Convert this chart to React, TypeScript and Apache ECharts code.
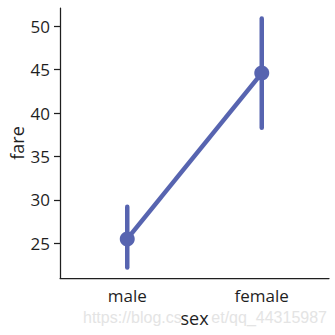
import React, { useEffect, useRef } from "react";
import * as echarts from "echarts";

const categories = ["male", "female"];
const meanFare = [25.5, 44.6];
const ciLow = [22.2, 38.3];
const ciHigh = [29.2, 50.9];
const yTicks = [25, 30, 35, 40, 45, 50];
const watermarkLeft = "https://blog.cs";
const watermarkRight = "et/qq_44315987";

const COLOR = "#5764b0";
const TEXT = "#1f1f1f";
const FONT = "Open Sans";

export default function App() {
  const ref = useRef<HTMLDivElement>(null);
  useEffect(() => {
    if (!ref.current) return;
    const chart = echarts.init(ref.current, null, { renderer: "svg" });
    chart.setOption({
      animation: false,
      backgroundColor: "#ffffff",
      textStyle: { fontFamily: FONT },
      grid: { left: 60, right: 6, top: 8, bottom: 57, containLabel: false, outerBoundsMode: "none" },
      xAxis: {
        type: "category",
        data: categories,
        boundaryGap: true,
        name: "sex",
        nameLocation: "middle",
        nameGap: 31,
        nameMoveOverlap: false,
        nameTextStyle: { color: TEXT, fontSize: 18, fontFamily: FONT },
        axisLine: { lineStyle: { color: TEXT, width: 1.25 } },
        axisTick: { alignWithLabel: true, length: 6, lineStyle: { color: TEXT, width: 1.25 } },
        axisLabel: { color: TEXT, fontSize: 17, margin: 9, fontFamily: FONT },
        splitLine: { show: false },
      },
      yAxis: {
        type: "value",
        min: 21,
        max: 52.1,
        name: "fare",
        nameLocation: "middle",
        nameGap: 34,
        nameMoveOverlap: false,
        nameRotate: 90,
        nameTextStyle: { color: TEXT, fontSize: 18, fontFamily: FONT },
        axisLine: { show: true, lineStyle: { color: TEXT, width: 1.25 } },
        axisTick: { show: true, length: 6, customValues: yTicks, lineStyle: { color: TEXT, width: 1.25 } },
        axisLabel: { color: TEXT, fontSize: 17, margin: 10, customValues: yTicks, fontFamily: FONT },
        splitLine: { show: false },
      },
      series: [
        {
          type: "custom",
          data: categories.map((_, i) => [i, ciLow[i], ciHigh[i]]),
          renderItem: (params: any, api: any) => {
            const x = api.value(0);
            const lo = api.coord([x, api.value(1)]);
            const hi = api.coord([x, api.value(2)]);
            return {
              type: "line",
              shape: { x1: lo[0], y1: lo[1], x2: hi[0], y2: hi[1] },
              style: { stroke: COLOR, lineWidth: 4.5, lineCap: "round" },
            };
          },
          z: 2,
        },
        {
          type: "line",
          data: meanFare,
          symbol: "circle",
          symbolSize: 15,
          itemStyle: { color: COLOR },
          lineStyle: { color: COLOR, width: 4.5 },
          z: 3,
        },
      ],
      graphic: [
        {
          type: "text",
          left: 83,
          top: 309,
          style: {
            text: watermarkLeft,
            fill: "#e4e4e4",
            fontSize: 16,
            fontFamily: "Liberation Sans",
          },
          z: -1,
        },
        {
          type: "text",
          right: 8,
          top: 309,
          style: {
            text: watermarkRight,
            fill: "#e4e4e4",
            fontSize: 16,
            fontFamily: "Liberation Sans",
          },
          z: -1,
        },
      ],
    });
    return () => chart.dispose();
  }, []);
  return <div ref={ref} style={{ width: 335, height: 335, position: "absolute", left: 0, top: 0 }} />;
}
